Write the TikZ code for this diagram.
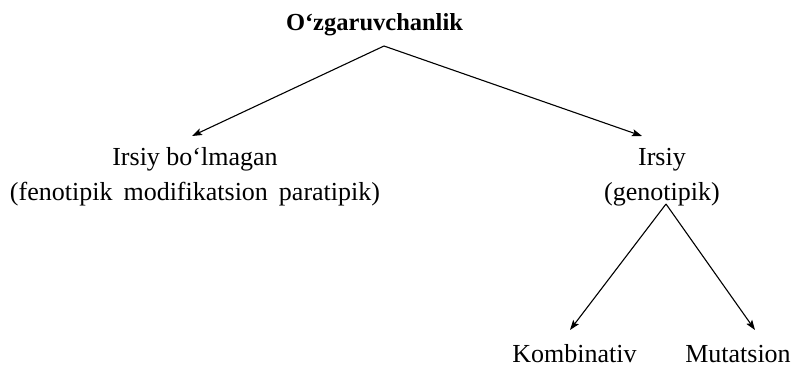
\documentclass[tikz,border=0pt]{standalone}
\usepackage{fontspec}
\setmainfont{Liberation Serif}
\usetikzlibrary{arrows.meta}
\newcommand{\wgap}{\hspace{11pt}}
\begin{document}
\begin{tikzpicture}[x=1pt,y=-1pt,
  label/.style={inner sep=0pt,align=center,font=\fontsize{26}{35}\selectfont},
  heading/.style={inner sep=0pt,font=\fontsize{24.5}{30}\selectfont\bfseries},
  link/.style={line width=1.1pt,-{Stealth[length=10pt,width=7pt,inset=2pt]}}]
\useasboundingbox (0,0) rectangle (797,367);
% root
\node[heading,anchor=base] (root) at (374.5,30) {O‘zgaruvchanlik};
\coordinate (split) at (384,46);
% first level (base anchor sits on the last line)
\node[label,anchor=base] (nonher) at (195,200) {Irsiy bo‘lmagan\\(fenotipik\wgap modifikatsion\wgap paratipik)};
\node[label,anchor=base] (her) at (662,200) {Irsiy\\(genotipik)};
\coordinate (nonhertip) at (192,136);
\coordinate (hertip) at (642,136);
% second level
\coordinate (fork) at (666,204);
\node[label,anchor=base] (comb) at (574.5,362) {Kombinativ};
\node[label,anchor=base] (mut) at (738,362) {Mutatsion};
\coordinate (combtip) at (570,330);
\coordinate (muttip) at (755,330);
% connectors
\draw[link] (split) -- (nonhertip);
\draw[link] (split) -- (hertip);
\draw[link] (fork) -- (combtip);
\draw[link] (fork) -- (muttip);
\end{tikzpicture}
\end{document}
